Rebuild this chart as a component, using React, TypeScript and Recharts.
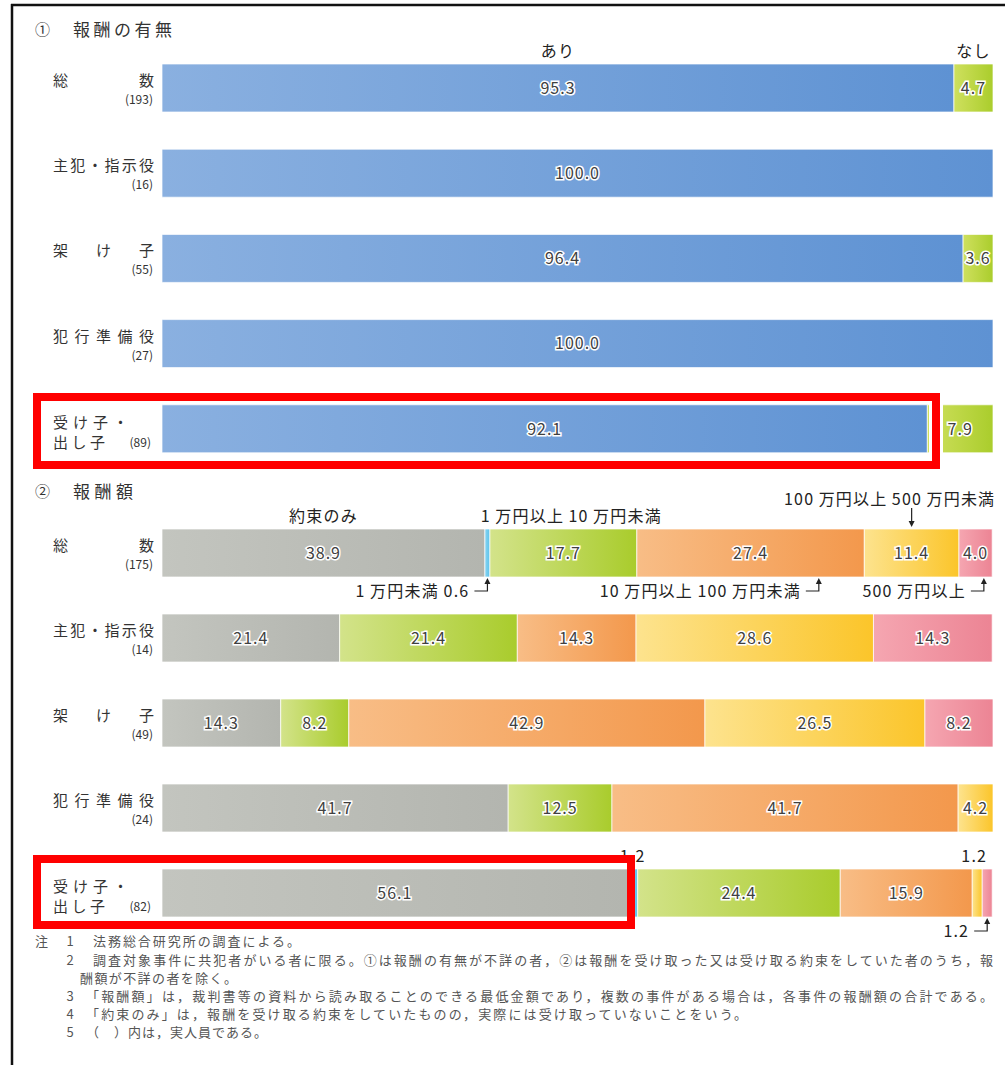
import { Bar, BarChart, LabelList, XAxis, YAxis } from 'recharts';

const FONT = '"Noto Sans CJK JP", "Noto Sans", sans-serif';

// rows shared by both panels
const rowNames = ['総数', '主犯・指示役', '架け子', '犯行準備役', '受け子・出し子'];
const rewardCounts = [193, 16, 55, 27, 89];
const amountCounts = [175, 14, 49, 24, 82];

// ① 報酬の有無 (%)
const rewardNames = ['あり', 'なし'];
const hasReward = [95.3, 100.0, 96.4, 100.0, 92.1];
const noReward = [4.7, 0, 3.6, 0, 7.9];

// ② 報酬額 (%)
const amountNames = [
  '約束のみ',
  '1万円未満',
  '1万円以上10万円未満',
  '10万円以上100万円未満',
  '100万円以上500万円未満',
  '500万円以上',
];
const promiseOnly = [38.9, 21.4, 14.3, 41.7, 56.1];
const under10k = [0.6, 0, 0, 0, 1.2];
const from10k = [17.7, 21.4, 8.2, 12.5, 24.4];
const from100k = [27.4, 14.3, 42.9, 41.7, 15.9];
const from1m = [11.4, 28.6, 26.5, 4.2, 1.2];
const over5m = [4.0, 14.3, 8.2, 0, 1.2];

const rewardData = rowNames.map((name, i) => ({
  name,
  ari: hasReward[i],
  nashi: noReward[i],
}));

const amountData = rowNames.map((name, i) => ({
  name,
  promise: promiseOnly[i],
  under10k: under10k[i],
  from10k: from10k[i],
  from100k: from100k[i],
  from1m: from1m[i],
  over5m: over5m[i],
}));

const noteLines = [
  '法務総合研究所の調査による。',
  '調査対象事件に共犯者がいる者に限る。①は報酬の有無が不詳の者，②は報酬を受け取った又は受け取る約束をしていた者のうち，報',
  '酬額が不詳の者を除く。',
  '「報酬額」は，裁判書等の資料から読み取ることのできる最低金額であり，複数の事件がある場合は，各事件の報酬額の合計である。',
  '「約束のみ」は，報酬を受け取る約束をしていたものの，実際には受け取っていないことをいう。',
  '（　）内は，実人員である。',
];

type NoteDef = {
  row: number;
  kind: 'head' | 'drop' | 'hook';
  text: 'name' | 'nameValue' | 'value';
  dx?: number;
  frac?: number;
};

const valueStyle = {
  fontFamily: FONT,
  fontSize: 16,
  fill: '#404040',
  stroke: '#fff',
  strokeWidth: 3,
  paintOrder: 'stroke' as const,
  letterSpacing: 1,
};

const noteStyle = { fontFamily: FONT, fontSize: 16, fill: '#222', letterSpacing: 1.2 };

// thin gaps between digits and kanji, as typeset in the original
const spaced = (s: string) =>
  s.replace(/(\d)(?=[^\d.\s])/g, '$1\u2009').replace(/([^\d.\s])(?=\d)/g, '$1\u2009');

function boxOf(p: any) {
  const v = p.viewBox && p.viewBox.width != null ? p.viewBox : p;
  return { x: Number(v.x), y: Number(v.y), w: Number(v.width), h: Number(v.height) };
}

function rowOf(p: any) {
  const pv = p.parentViewBox;
  if (pv && pv.height) {
    const { y, h } = boxOf(p);
    const band = Number(pv.height) / rowNames.length;
    return Math.floor((y + h / 2 - Number(pv.y ?? 0)) / band);
  }
  return p.index;
}

const renderValue = (p: any) => {
  const v = Number(p.value);
  if (!v || v < 2) return null;
  const { x, y, w, h } = boxOf(p);
  return (
    <text x={x + w / 2} y={y + h / 2} dy="0.36em" textAnchor="middle" style={valueStyle}>
      {v.toFixed(1)}
    </text>
  );
};

function makeNote(seriesName: string, notes: NoteDef[]) {
  return (p: any) => {
    const n = notes.find((d) => d.row === rowOf(p));
    if (!n) return null;
    const v = Number(p.value);
    const text = spaced(
      n.text === 'name' ? seriesName : n.text === 'nameValue' ? `${seriesName} ${v.toFixed(1)}` : v.toFixed(1),
    );
    const { x, y, w, h } = boxOf(p);
    const cx = x + w / 2;
    if (n.kind === 'head') {
      return (
        <text x={cx + (n.dx ?? 0)} y={y - 13} dy="0.36em" textAnchor="middle" style={noteStyle}>
          {text}
        </text>
      );
    }
    if (n.kind === 'drop') {
      return (
        <g>
          <text x={cx + (n.dx ?? 0)} y={y - 30} dy="0.36em" textAnchor="middle" style={noteStyle}>
            {text}
          </text>
          <line x1={cx} x2={cx} y1={y - 21} y2={y - 6} stroke="#222" strokeWidth={1.2} />
          <polygon points={`${cx},${y - 2} ${cx - 3},${y - 8} ${cx + 3},${y - 8}`} fill="#222" />
        </g>
      );
    }
    const ax = x + w * (n.frac ?? 0.5);
    const b = y + h;
    return (
      <g>
        <text x={ax - 18} y={b + 14} dy="0.36em" textAnchor="end" style={noteStyle}>
          {text}
        </text>
        <path d={`M${ax - 13},${b + 14} H${ax} V${b + 6}`} fill="none" stroke="#222" strokeWidth={1.2} />
        <polygon points={`${ax},${b + 1} ${ax - 3},${b + 7} ${ax + 3},${b + 7}`} fill="#222" />
      </g>
    );
  };
}

const labelText = { fontFamily: FONT, fontSize: 15, fill: '#333' };
const countText = { fontFamily: FONT, fontSize: 12, fill: '#333' };

function RowTick(props: any) {
  const { y, payload, counts } = props;
  const name: string = payload.value;
  const i = rowNames.indexOf(name);
  const cy = Number(y);
  const count = `(${counts[i]})`;
  if (name === '受け子・出し子') {
    return (
      <g>
        <text x={53} y={cy - 6} dy="0.36em" textLength={75} lengthAdjust="spacing" style={labelText}>
          {name.slice(0, 4)}
        </text>
        <text x={53} y={cy + 14} dy="0.36em" textLength={52} lengthAdjust="spacing" style={labelText}>
          {name.slice(4)}
        </text>
        <text x={151} y={cy + 14} dy="0.36em" textAnchor="end" style={countText}>
          {count}
        </text>
      </g>
    );
  }
  return (
    <g>
      <text x={53} y={cy - 7} dy="0.36em" textLength={101} lengthAdjust="spacing" style={labelText}>
        {name}
      </text>
      <text x={153} y={cy + 12} dy="0.36em" textAnchor="end" style={countText}>
        {count}
      </text>
    </g>
  );
}

const amountSeries = [
  { key: 'promise', fill: 'url(#gGray)', notes: [{ row: 0, kind: 'head', text: 'name' }] },
  {
    key: 'under10k',
    fill: 'url(#gCyan)',
    notes: [
      { row: 0, kind: 'hook', text: 'nameValue', frac: 0.5 },
      { row: 4, kind: 'head', text: 'value', dx: 0 },
    ],
  },
  { key: 'from10k', fill: 'url(#gGreen)', notes: [{ row: 0, kind: 'head', text: 'name', dx: 8 }] },
  { key: 'from100k', fill: 'url(#gOrange)', notes: [{ row: 0, kind: 'hook', text: 'name', frac: 0.8 }] },
  {
    key: 'from1m',
    fill: 'url(#gYellow)',
    notes: [
      { row: 0, kind: 'drop', text: 'name', dx: -22 },
      { row: 4, kind: 'head', text: 'value', dx: -3 },
    ],
  },
  {
    key: 'over5m',
    fill: 'url(#gPink)',
    notes: [
      { row: 0, kind: 'hook', text: 'name', frac: 0.75 },
      { row: 4, kind: 'hook', text: 'value', frac: 0.5 },
    ],
  },
] as { key: string; fill: string; notes: NoteDef[] }[];

function Grad({ id, from, to }: { id: string; from: string; to: string }) {
  return (
    <linearGradient id={id} x1="0" y1="0" x2="1" y2="0">
      <stop offset="0%" stopColor={from} />
      <stop offset="100%" stopColor={to} />
    </linearGradient>
  );
}

const titleStyle = { fontFamily: FONT, fontSize: 17, fill: '#333' };
const footStyle = { fontFamily: FONT, fontSize: 13, fill: '#555' };
const noteX = [93, 93, 80, 86, 86, 86];
const noteW = [207, 900, 157, 907, 661, 181];
const noteY = [941, 960, 978, 996, 1014, 1032];
const noteNum = ['1', '2', '', '3', '4', '5'];

export default function App() {
  return (
    <div
      style={{
        position: 'absolute',
        left: 0,
        top: 0,
        width: 1005,
        height: 1065,
        background: '#fff',
        overflow: 'hidden',
      }}
    >
      <svg width={0} height={0} style={{ position: 'absolute' }}>
        <defs>
          <Grad id="gBlue" from="#8ab0e0" to="#5e92d3" />
          <Grad id="gLime" from="#cfe05e" to="#aacd2c" />
          <Grad id="gGray" from="#c3c5bf" to="#b3b5af" />
          <Grad id="gCyan" from="#86d4f2" to="#5cc2ea" />
          <Grad id="gGreen" from="#d3e38a" to="#a9cc2c" />
          <Grad id="gOrange" from="#f8bd86" to="#f3984c" />
          <Grad id="gYellow" from="#fde38e" to="#fbc52a" />
          <Grad id="gPink" from="#f5a6b1" to="#ec8494" />
        </defs>
      </svg>

      <div style={{ position: 'absolute', left: 0, top: 5 }}>
        <BarChart
          layout="vertical"
          width={1005}
          height={466}
          data={rewardData}
          margin={{ top: 40, right: 12, bottom: 0, left: 0 }}
        >
          <XAxis type="number" domain={[0, 100]} hide />
          <YAxis
            type="category"
            dataKey="name"
            width={162}
            axisLine={false}
            tickLine={false}
            interval={0}
            tick={(p: any) => <RowTick {...p} counts={rewardCounts} />}
          />
          <Bar dataKey="ari" stackId="a" barSize={48} fill="url(#gBlue)" stroke="rgba(255,255,255,0.7)" strokeWidth={1} isAnimationActive={false}>
            <LabelList dataKey="ari" content={renderValue} />
            <LabelList dataKey="ari" content={makeNote(rewardNames[0], [{ row: 0, kind: 'head', text: 'name' }])} />
          </Bar>
          <Bar dataKey="nashi" stackId="a" barSize={48} fill="url(#gLime)" stroke="rgba(255,255,255,0.7)" strokeWidth={1} isAnimationActive={false}>
            <LabelList dataKey="nashi" content={renderValue} />
            <LabelList dataKey="nashi" content={makeNote(rewardNames[1], [{ row: 0, kind: 'head', text: 'name' }])} />
          </Bar>
        </BarChart>
      </div>

      <div style={{ position: 'absolute', left: 0, top: 470 }}>
        <BarChart
          layout="vertical"
          width={1005}
          height={485}
          data={amountData}
          margin={{ top: 40, right: 12, bottom: 20, left: 0 }}
        >
          <XAxis type="number" domain={[0, 100]} hide />
          <YAxis
            type="category"
            dataKey="name"
            width={162}
            axisLine={false}
            tickLine={false}
            interval={0}
            tick={(p: any) => <RowTick {...p} counts={amountCounts} />}
          />
          {amountSeries.map((s, i) => (
            <Bar
              key={s.key}
              dataKey={s.key}
              stackId="a"
              barSize={48}
              fill={s.fill}
              stroke="rgba(255,255,255,0.7)"
              strokeWidth={1}
              isAnimationActive={false}
            >
              <LabelList dataKey={s.key} content={renderValue} />
              <LabelList dataKey={s.key} content={makeNote(amountNames[i], s.notes)} />
            </Bar>
          ))}
        </BarChart>
      </div>

      <svg width={1005} height={1065} style={{ position: 'absolute', left: 0, top: 0, pointerEvents: 'none' }}>
        <line x1={11} x2={1005} y1={5} y2={5} stroke="#111" strokeWidth={2.5} />
        <line x1={12} x2={12} y1={4} y2={1065} stroke="#111" strokeWidth={2.5} />

        <text x={35} y={30} dy="0.36em" style={{ ...titleStyle, fontSize: 15 }}>①</text>
        <text x={73} y={30} dy="0.36em" textLength={99} lengthAdjust="spacing" style={titleStyle}>
          報酬の有無
        </text>
        <text x={35} y={492} dy="0.36em" style={{ ...titleStyle, fontSize: 15 }}>②</text>
        <text x={73} y={492} dy="0.36em" textLength={60} lengthAdjust="spacing" style={titleStyle}>
          報酬額
        </text>

        <rect x={37} y={397} width={899} height={68} fill="none" stroke="#fff" strokeWidth={14} />
        <rect x={37} y={397} width={899} height={68} fill="none" stroke="#f00" strokeWidth={8} />
        <rect x={37} y={859} width={594} height={66} fill="none" stroke="#f00" strokeWidth={8} />

        <text x={35} y={noteY[0]} dy="0.36em" style={footStyle}>注</text>
        {noteLines.map((line, i) => (
          <g key={i}>
            {noteNum[i] && (
              <text x={70} y={noteY[i]} dy="0.36em" textAnchor="middle" style={footStyle}>
                {noteNum[i]}
              </text>
            )}
            <text x={noteX[i]} y={noteY[i]} dy="0.36em" textLength={noteW[i]} lengthAdjust="spacing" style={footStyle}>
              {line}
            </text>
          </g>
        ))}
      </svg>
    </div>
  );
}
